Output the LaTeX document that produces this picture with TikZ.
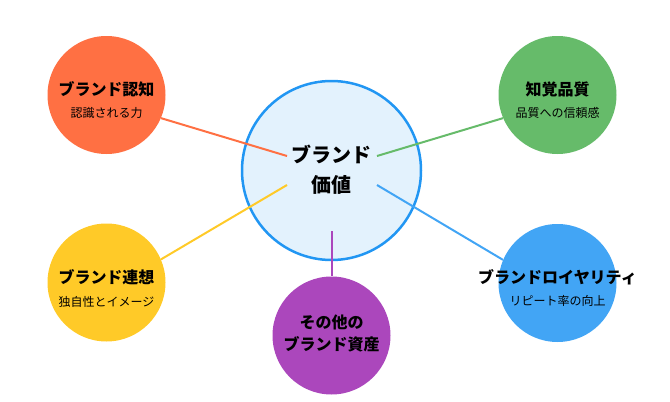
\documentclass[tikz,border=0pt]{standalone}
\usepackage{fontspec}
\usepackage{xcolor}
\usepackage{tikz}
\setmainfont{Noto Sans CJK JP}

\definecolor{valueblue}{HTML}{2196F3}
\definecolor{valuefill}{HTML}{E3F2FD}
\definecolor{awareorange}{HTML}{FF7043}
\definecolor{qualgreen}{HTML}{66BB6A}
\definecolor{assocyellow}{HTML}{FFCA28}
\definecolor{loyalblue}{HTML}{42A5F5}
\definecolor{otherpurple}{HTML}{AB47BC}

\tikzset{
	subcirc/.style={circle, minimum size=118pt, inner sep=0pt},
	ttl/.style={font=\bfseries\fontsize{16}{22}\selectfont, align=center},
	note/.style={font=\fontsize{12}{14}\selectfont},
	link/.style={line width=2pt}
}

\begin{document}
\begin{tikzpicture}[x=1pt,y=-1pt]
	\useasboundingbox (0,0) rectangle (670,402);
	% centre
	\path (331.5,170.5) node[circle, draw=valueblue, fill=valuefill, line width=2.5pt, minimum size=179pt] (value) {};
	\path (331.5,170) node[font=\bfseries\fontsize{20}{30}\selectfont, align=center] (valuetxt) {ブランド\\価値};
	\coordinate (v-aw) at (287,156);
	\coordinate (v-ql) at (377,156);
	\coordinate (v-as) at (287,185);
	\coordinate (v-ly) at (377,185);
	\coordinate (v-ot) at (331.5,231);
	% outer circles
	\path (106.5,95) node[subcirc, fill=awareorange] (aware) {};
	\path (557.5,95) node[subcirc, fill=qualgreen] (qual) {};
	\path (106.5,282.5) node[subcirc, fill=assocyellow] (assoc) {};
	\path (557.5,283) node[subcirc, fill=loyalblue] (loyal) {};
	\path (331.5,335.5) node[subcirc, fill=otherpurple] (other) {};
	% texts
	\path (106.5,89) node[ttl] (aware-t) {ブランド認知};
	\path (106.5,113) node[note] (aware-n) {認識される力};
	\path (557.5,89) node[ttl] (qual-t) {知覚品質};
	\path (557.5,113) node[note] (qual-n) {品質への信頼感};
	\path (106.5,277) node[ttl] (assoc-t) {ブランド連想};
	\path (106.5,302) node[note] (assoc-n) {独自性とイメージ};
	\path (557.5,277) node[ttl] (loyal-t) {ブランドロイヤリティ};
	\path (557.5,301) node[note] (loyal-n) {リピート率の向上};
	\path (331.5,333.5) node[ttl] (other-t) {その他の\\ブランド資産};
	% links
	\draw[link, awareorange] (v-aw) -- (aware.337);
	\draw[link, qualgreen] (v-ql) -- (qual.203);
	\draw[link, assocyellow] (v-as) -- (assoc.23);
	\draw[link, loyalblue] (v-ly) -- (loyal.157);
	\draw[link, otherpurple] (v-ot) -- (other.90);
\end{tikzpicture}
\end{document}
